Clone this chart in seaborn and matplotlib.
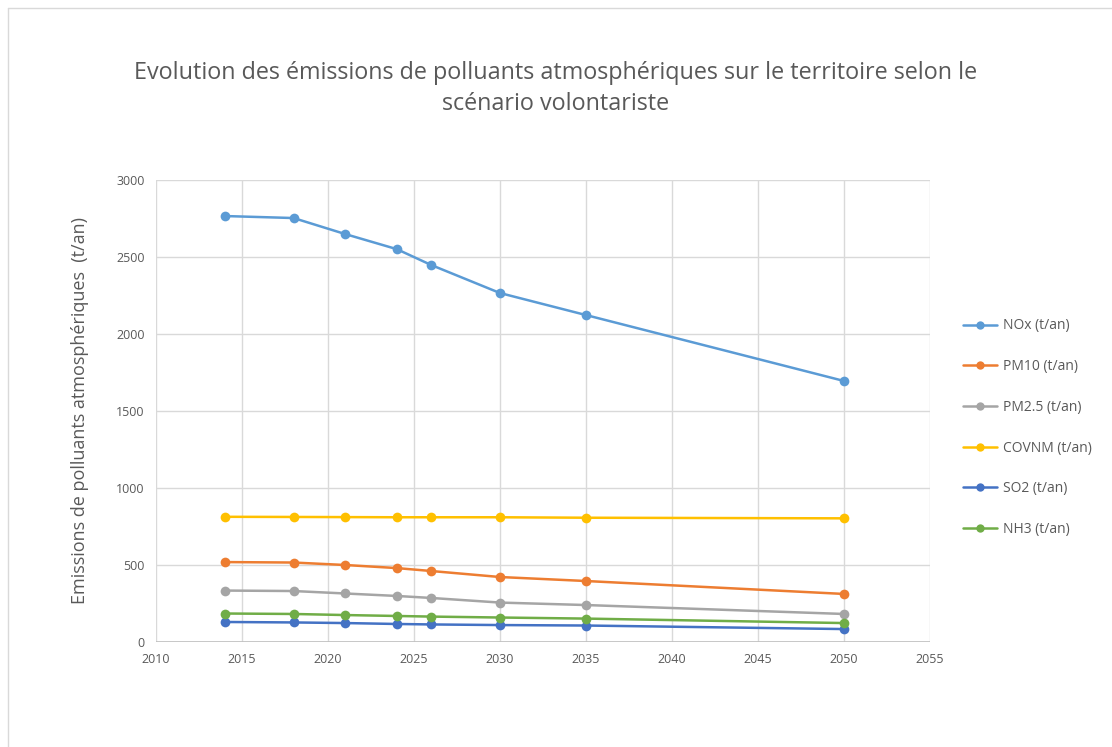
import pandas as pd
import matplotlib.pyplot as plt
import seaborn as sns
from matplotlib.lines import Line2D

# data
years = [2014, 2018, 2021, 2024, 2026, 2030, 2035, 2050]
nox = [2766, 2753, 2649, 2551, 2448, 2266, 2123, 1695]
pm10 = [519, 516, 500, 480, 461, 422, 396, 312]
pm25 = [334, 331, 315, 299, 286, 256, 240, 182]
covnm = [813, 812, 811, 810, 810, 810, 807, 803]
so2 = [130, 127, 123, 117, 114, 110, 107, 84]
nh3 = [185, 182, 175, 169, 165, 159, 152, 123]

series = ["NOx (t/an)", "PM10 (t/an)", "PM2.5 (t/an)", "COVNM (t/an)", "SO2 (t/an)", "NH3 (t/an)"]
colors = ["#5B9BD5", "#ED7D31", "#A5A5A5", "#FFC000", "#4472C4", "#70AD47"]

df = pd.DataFrame({
    "annee": years * 6,
    "valeur": nox + pm10 + pm25 + covnm + so2 + nh3,
    "polluant": [s for s in series for _ in years],
})

sns.set_style("white")
plt.rcParams["font.family"] = ["Open Sans", "DejaVu Sans"]

fig = plt.figure(figsize=(11.12, 7.47), dpi=100)
ax = fig.add_axes([156 / 1112, 1 - 642 / 747, (930 - 156) / 1112, (642 - 180) / 747])

sns.lineplot(data=df, x="annee", y="valeur", hue="polluant", hue_order=series,
             palette=colors, marker="o", markersize=7, markeredgewidth=0,
             linewidth=1.8, legend=False, ax=ax)

ax.set_xlim(2010, 2055)
ax.set_ylim(0, 3000)
ax.set_xticks(range(2010, 2056, 5))
ax.set_yticks(range(0, 3001, 500))
ax.grid(True, color="#D9D9D9", linewidth=1)
ax.set_axisbelow(True)
for side in ["top", "right", "left", "bottom"]:
    ax.spines[side].set_visible(False)
ax.axhline(0, color="#BFBFBF", linewidth=1.2, zorder=1)
ax.tick_params(axis="both", length=0, labelsize=9, labelcolor="#595959", pad=8)
ax.set_xlabel("")
ax.set_ylabel("Emissions de polluants atmosphériques  (t/an)", fontsize=13, color="#595959", labelpad=20)

fig.text(0.5, 1 - 73 / 747, "Evolution des émissions de polluants atmosphériques sur le territoire selon le",
         ha="center", va="center", fontsize=16.8, color="#595959")
fig.text(0.5, 1 - 104 / 747, "scénario volontariste",
         ha="center", va="center", fontsize=16.8, color="#595959")

handles = [Line2D([0], [0], color=c, marker="o", markersize=6, markeredgewidth=0, linewidth=1.8)
           for c in colors]
ax.legend(handles, series, loc="upper left", bbox_to_anchor=(950 / 1112, 1 - 306 / 747),
          bbox_transform=fig.transFigure, frameon=False, fontsize=10, labelcolor="#595959",
          labelspacing=1.85, handlelength=2.5, handletextpad=0.4)

# thin outer chart border
fig.add_artist(Line2D([8 / 1112, 8 / 1112], [0, 1 - 8 / 747], transform=fig.transFigure, color="#D9D9D9", linewidth=1))
fig.add_artist(Line2D([8 / 1112, 1], [1 - 8 / 747, 1 - 8 / 747], transform=fig.transFigure, color="#D9D9D9", linewidth=1))

fig.savefig("out.png", dpi=100)
